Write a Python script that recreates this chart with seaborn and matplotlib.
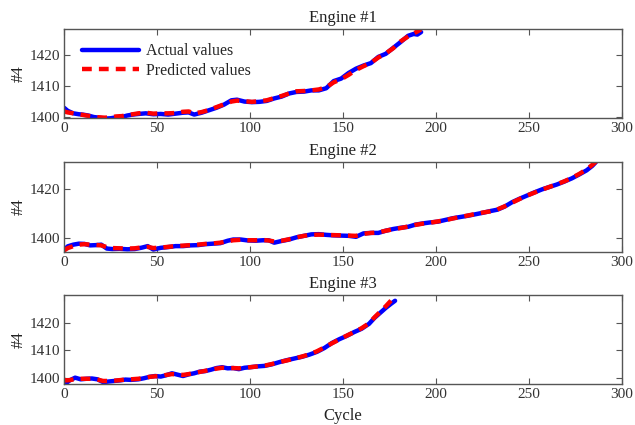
import numpy as np
import pandas as pd
import matplotlib
matplotlib.use("Agg")
import matplotlib.pyplot as plt
import seaborn as sns

# -----------------------------
# Data
# -----------------------------
cyc1 = [0, 2, 5, 8, 10, 13, 16, 19, 22, 25, 28, 31, 34, 37, 40, 44, 48, 52, 56, 60,
        64, 67, 70, 74, 78, 82, 86, 90, 93, 97, 101, 105, 109, 113, 117, 121, 125, 129,
        133, 137, 141, 145, 149, 153, 157, 161, 165, 169, 173, 177, 181, 185, 188, 190, 192]
act1 = [1403.0, 1402.0, 1401.2, 1400.9, 1400.8, 1400.5, 1400.0, 1399.8, 1399.5, 1399.6,
        1399.9, 1400.0, 1400.5, 1400.8, 1401.0, 1401.2, 1400.9, 1401.0, 1400.8, 1401.1,
        1401.4, 1401.5, 1400.8, 1401.4, 1402.2, 1403.0, 1404.0, 1405.4, 1405.6, 1405.0,
        1404.8, 1404.9, 1405.2, 1406.0, 1406.6, 1407.6, 1408.1, 1408.2, 1408.6, 1408.6,
        1409.3, 1411.6, 1412.4, 1414.2, 1415.6, 1416.6, 1417.4, 1419.4, 1420.4, 1422.3,
        1424.2, 1426.2, 1426.8, 1426.6, 1427.4]
pred1 = [1401.8, 1401.5, 1401.2, 1400.9, 1400.7, 1400.4, 1400.1, 1399.9, 1399.8, 1399.9,
         1400.2, 1400.3, 1400.6, 1400.9, 1401.2, 1401.4, 1401.1, 1401.2, 1401.2, 1401.3,
         1401.7, 1401.8, 1401.2, 1401.6, 1402.3, 1403.2, 1404.1, 1405.0, 1405.3, 1405.1,
         1404.9, 1405.1, 1405.4, 1406.1, 1406.8, 1407.6, 1408.3, 1408.4, 1408.6, 1408.9,
         1409.6, 1411.2, 1412.2, 1413.6, 1415.2, 1416.4, 1417.5, 1419.2, 1420.5, 1422.2,
         1424.4, 1426.0, 1427.0, 1427.6, 1428.3]

cyc2 = [0, 2, 5, 8, 11, 14, 17, 20, 23, 26, 30, 34, 38, 42, 45, 48, 52, 56, 60, 64,
        68, 72, 76, 80, 84, 88, 91, 95, 99, 103, 107, 110, 113, 117, 121, 125, 129, 133,
        137, 141, 145, 149, 153, 157, 161, 165, 169, 173, 177, 181, 185, 189, 193, 197,
        201, 205, 209, 213, 217, 221, 225, 229, 233, 237, 241, 245, 249, 253, 257, 261,
        265, 269, 273, 277, 281, 284, 286]
act2 = [1395.0, 1396.5, 1397.2, 1397.6, 1397.5, 1396.9, 1397.0, 1397.2, 1395.6, 1395.4,
        1395.5, 1395.3, 1395.4, 1396.0, 1396.6, 1395.2, 1395.9, 1396.2, 1396.6, 1396.6,
        1396.9, 1397.0, 1397.4, 1397.6, 1397.8, 1398.8, 1399.3, 1399.3, 1398.9, 1398.8,
        1399.0, 1399.0, 1398.0, 1398.7, 1399.3, 1400.2, 1400.8, 1401.4, 1401.5, 1401.2,
        1401.0, 1400.9, 1400.8, 1400.4, 1401.8, 1402.0, 1402.0, 1402.9, 1403.6, 1404.1,
        1404.5, 1405.4, 1405.9, 1406.3, 1406.6, 1407.3, 1408.0, 1408.5, 1409.0, 1409.6,
        1410.2, 1410.9, 1411.5, 1412.8, 1414.6, 1416.0, 1417.3, 1418.6, 1419.8, 1420.8,
        1421.8, 1423.0, 1424.3, 1425.9, 1427.6, 1429.4, 1431.0]
pred2 = [1394.8, 1395.8, 1396.6, 1397.2, 1397.4, 1397.2, 1397.1, 1396.9, 1396.2, 1395.8,
         1395.7, 1395.6, 1395.7, 1396.1, 1396.3, 1395.8, 1396.0, 1396.3, 1396.6, 1396.8,
         1397.0, 1397.2, 1397.5, 1397.7, 1398.0, 1398.6, 1399.0, 1399.2, 1399.0, 1399.0,
         1399.1, 1398.9, 1398.5, 1398.8, 1399.4, 1400.2, 1400.8, 1401.2, 1401.3, 1401.2,
         1401.1, 1401.0, 1400.9, 1400.8, 1401.6, 1402.0, 1402.2, 1402.9, 1403.5, 1404.0,
         1404.6, 1405.3, 1405.8, 1406.2, 1406.7, 1407.2, 1407.9, 1408.5, 1409.1, 1409.7,
         1410.3, 1410.8, 1411.6, 1412.9, 1414.4, 1415.9, 1417.3, 1418.5, 1419.7, 1420.8,
         1421.9, 1423.1, 1424.5, 1426.1, 1428.0, 1429.8, 1431.2]

cyc3 = [0, 1, 3, 6, 9, 12, 15, 18, 21, 24, 27, 30, 33, 36, 40, 43, 46, 49, 52, 55,
        58, 61, 64, 67, 70, 73, 76, 79, 82, 85, 88, 91, 94, 97, 100, 104, 108, 112, 116,
        120, 124, 128, 132, 136, 140, 144, 148, 152, 156, 160, 164, 167, 170, 173, 176, 178]
act3 = [1398.3, 1397.9, 1399.0, 1400.0, 1399.4, 1399.6, 1399.7, 1399.4, 1398.4, 1398.6,
        1398.8, 1399.0, 1399.3, 1399.2, 1399.4, 1399.8, 1400.3, 1400.6, 1400.4, 1400.9,
        1401.6, 1401.1, 1400.6, 1401.2, 1401.6, 1402.2, 1402.4, 1402.9, 1403.5, 1403.8,
        1403.4, 1403.5, 1403.1, 1403.6, 1403.8, 1404.1, 1404.3, 1404.9, 1405.7, 1406.4,
        1407.0, 1407.6, 1408.4, 1409.4, 1410.8, 1412.6, 1414.0, 1415.2, 1416.6, 1417.8,
        1419.6, 1421.8, 1423.6, 1425.4, 1427.0, 1428.0]
pred3 = [1399.3, 1399.0, 1399.1, 1399.5, 1399.6, 1399.6, 1399.6, 1399.3, 1398.8, 1398.8,
         1398.9, 1399.1, 1399.3, 1399.4, 1399.6, 1399.9, 1400.3, 1400.5, 1400.6, 1401.0,
         1401.3, 1401.2, 1401.0, 1401.3, 1401.7, 1402.1, 1402.5, 1402.9, 1403.3, 1403.6,
         1403.5, 1403.5, 1403.4, 1403.6, 1403.8, 1404.1, 1404.4, 1405.0, 1405.7, 1406.3,
         1407.0, 1407.7, 1408.5, 1409.6, 1411.0, 1412.5, 1413.9, 1415.3, 1416.6, 1418.0,
         1419.8, 1422.0, 1424.0, 1426.0, 1428.2, 1430.0]

titles = ["Engine #1", "Engine #2", "Engine #3"]
ylims = [(1399.7, 1428.4), (1394.2, 1431.0), (1397.7, 1430.1)]
yticks = [[1400, 1410, 1420], [1400, 1420], [1400, 1410, 1420]]

# -----------------------------
# Plot
# -----------------------------
sns.set_theme(style="ticks")
plt.rcParams["font.family"] = ["Liberation Serif", "DejaVu Serif"]
plt.rcParams["axes.edgecolor"] = "#555555"
plt.rcParams["xtick.color"] = "#555555"
plt.rcParams["ytick.color"] = "#555555"
plt.rcParams["xtick.labelcolor"] = "#333333"
plt.rcParams["ytick.labelcolor"] = "#333333"

fig = plt.figure(figsize=(6.35, 4.25), dpi=100)
boxes = [(0.1008, 0.7224, 0.8787, 0.2094),
         (0.1008, 0.4071, 0.8787, 0.2117),
         (0.1008, 0.0965, 0.8787, 0.2094)]

series = [(cyc1, act1, pred1), (cyc2, act2, pred2), (cyc3, act3, pred3)]

for i, (cyc, act, pred) in enumerate(series):
    ax = fig.add_axes(boxes[i])
    sns.lineplot(x=cyc, y=act, ax=ax, color="blue", lw=3.2,
                 label="Actual values" if i == 0 else None)
    sns.lineplot(x=cyc, y=pred, ax=ax, color="red", lw=3.2, dashes=False,
                 label="Predicted values" if i == 0 else None)
    ax.lines[-1].set_linestyle((0, (2.2, 1.6)))
    ax.set_xlim(0, 300)
    ax.set_ylim(*ylims[i])
    ax.set_xticks([0, 50, 100, 150, 200, 250, 300])
    ax.set_yticks(yticks[i])
    ax.tick_params(direction="in", top=True, right=True, labelsize=11,
                   length=4, width=0.8, pad=3)
    for s in ax.spines.values():
        s.set_linewidth(1.0)
    ax.set_title(titles[i], fontsize=12, pad=5, color="#222222")
    ax.set_ylabel("#4", fontsize=12, color="#222222", labelpad=2)
    if i == 0:
        leg = ax.legend(loc="upper left", bbox_to_anchor=(0.006, 1.0), frameon=False,
                        fontsize=11.5, handlelength=3.6, handletextpad=0.4,
                        labelspacing=0.2, borderaxespad=0.5)
        for h in leg.get_lines():
            h.set_linewidth(3.2)
        leg.get_lines()[1].set_linestyle((0, (2.2, 1.6)))
    elif ax.get_legend() is not None:
        ax.get_legend().remove()
    if i == 2:
        ax.set_xlabel("Cycle", fontsize=12, color="#222222", labelpad=5)

fig.savefig("out.png", dpi=100)
